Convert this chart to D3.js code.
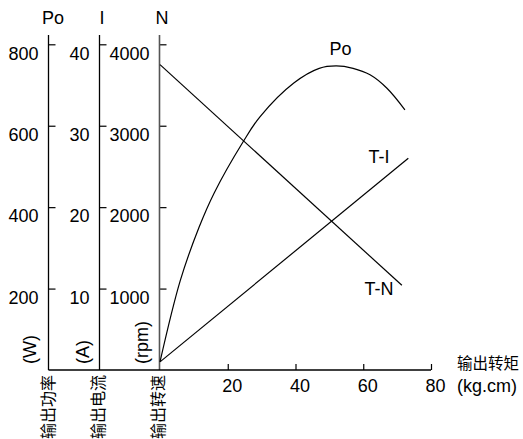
<!DOCTYPE html>
<html>
<head>
<meta charset="utf-8">
<script src="https://cdn.jsdelivr.net/npm/d3@7"></script>
<style>
  body { margin: 0; background: #fff; }
  svg text { font-family: "Liberation Sans", Arial, sans-serif; fill: #000; }
  .cjk { font-family: "Noto Sans CJK SC", sans-serif; }
</style>
</head>
<body>
<div id="chart"></div>
<script>
// torque (kg.cm) on the bottom axis
const torqueTicks = [20, 40, 60, 80];
const powerTicks = [200, 400, 600, 800];
const currentTicks = [10, 20, 30, 40];
const speedTicks = [1000, 2000, 3000, 4000];

// Po curve: output power (W) vs torque
const poTorque = [0, 6, 11.5, 16, 24.5, 29.5, 39.5, 47, 52, 57, 62, 67, 72.3];
const poWatts = [20, 220, 350, 435, 560, 622, 705, 741, 747, 741, 725, 692, 639];

// T-I line: current (A) vs torque
const tiTorque = [0, 73.3];
const tiAmps = [1, 26];

// T-N line: speed (rpm) vs torque
const tnTorque = [0, 71.4];
const tnRpm = [3750, 1040];

const width = 523, height = 439;
const baseY = 370, topY = 35;
const fs = "18px";

const svg = d3.select("#chart").append("svg")
  .attr("width", width)
  .attr("height", height);

const x = d3.scaleLinear().domain([0, 80]).range([160, 431]);
const yPo = d3.scaleLinear().domain([0, 800]).range([baseY, 44.3]);
const yI = d3.scaleLinear().domain([0, 40]).range([baseY, 44.3]);
const yN = d3.scaleLinear().domain([0, 4000]).range([baseY, 44.3]);

// three vertical axes, ticks pointing right, labels on the left
const axes = [
  { name: "Po", scale: yPo, ticks: powerTicks, pos: 48.5, unit: "(W)", unitX: 30, titleX: 53 },
  { name: "I", scale: yI, ticks: currentTicks, pos: 99.5, unit: "(A)", unitX: 82.5, titleX: 102 },
  { name: "N", scale: yN, ticks: speedTicks, pos: 159.5, unit: "(rpm)", unitX: 141.5, titleX: 162 }
];
const cnLabels = ["输出功率", "输出电流", "输出转速"];
const cnX = [47.5, 98, 158];

axes.forEach((a, i) => {
  const g = svg.append("g")
    .attr("transform", `translate(${a.pos},0)`)
    .call(d3.axisLeft(a.scale)
      .tickValues(a.ticks)
      .tickFormat(d3.format("d"))
      .tickSizeInner(-7)
      .tickSizeOuter(0)
      .tickPadding(10));
  g.select(".domain").remove();
  g.selectAll(".tick line").attr("stroke", "#000").attr("stroke-width", 1.2);
  g.selectAll(".tick text")
    .attr("dy", "0.82em")
    .style("font-size", fs)
    .style("font-family", "Liberation Sans, Arial, sans-serif");

  svg.append("line")
    .attr("x1", a.pos).attr("x2", a.pos)
    .attr("y1", topY).attr("y2", baseY)
    .attr("stroke", i === 2 ? "#555" : "#000")
    .attr("stroke-width", i === 2 ? 1.6 : 1.3);

  svg.append("text")
    .attr("x", a.titleX)
    .attr("y", 24)
    .attr("text-anchor", "middle")
    .style("font-size", fs)
    .text(a.name);

  svg.append("text")
    .attr("transform", `translate(${a.unitX},364) rotate(-90)`)
    .attr("dy", "0.35em")
    .style("font-size", fs)
    .text(a.unit);

  svg.append("text")
    .attr("class", "cjk")
    .attr("transform", `translate(${cnX[i]},375) rotate(-90)`)
    .attr("text-anchor", "end")
    .attr("dy", "0.38em")
    .style("font-size", "16px")
    .text(cnLabels[i]);
});

// bottom axis, ticks pointing up
const gx = svg.append("g")
  .attr("transform", `translate(0,${baseY})`)
  .call(d3.axisBottom(x)
    .tickValues(torqueTicks)
    .tickSizeInner(-6)
    .tickSizeOuter(0)
    .tickPadding(9));
gx.select(".domain").remove();
gx.selectAll(".tick line").attr("stroke", "#000").attr("stroke-width", 1.2);
gx.selectAll(".tick text")
  .attr("dx", 4)
  .style("font-size", fs)
  .style("font-family", "Liberation Sans, Arial, sans-serif");

svg.append("line")
  .attr("x1", 48.5).attr("x2", x(80))
  .attr("y1", baseY).attr("y2", baseY)
  .attr("stroke", "#000")
  .attr("stroke-width", 1.3);

svg.append("text")
  .attr("class", "cjk")
  .attr("x", 457).attr("y", 369)
  .style("font-size", "15.5px")
  .text("输出转矩");
svg.append("text")
  .attr("x", 457).attr("y", 392)
  .style("font-size", fs)
  .text("(kg.cm)");

// curves
const poLine = d3.line()
  .x(d => x(d[0]))
  .y(d => yPo(d[1]))
  .curve(d3.curveCatmullRom.alpha(0.5));

svg.append("path")
  .datum(poTorque.map((t, i) => [t, poWatts[i]]))
  .attr("d", poLine)
  .attr("fill", "none")
  .attr("stroke", "#000")
  .attr("stroke-width", 1.2);

svg.append("path")
  .datum(tiTorque.map((t, i) => [t, tiAmps[i]]))
  .attr("d", d3.line().x(d => x(d[0])).y(d => yI(d[1])))
  .attr("fill", "none")
  .attr("stroke", "#000")
  .attr("stroke-width", 1.2);

svg.append("path")
  .datum(tnTorque.map((t, i) => [t, tnRpm[i]]))
  .attr("d", d3.line().x(d => x(d[0])).y(d => yN(d[1])))
  .attr("fill", "none")
  .attr("stroke", "#000")
  .attr("stroke-width", 1.2);

// curve labels
const curveLabels = [
  { text: "Po", x: 340.5, y: 55 },
  { text: "T-I", x: 379, y: 163 },
  { text: "T-N", x: 379, y: 295 }
];
svg.selectAll(".curve-label")
  .data(curveLabels)
  .join("text")
  .attr("class", "curve-label")
  .attr("x", d => d.x)
  .attr("y", d => d.y)
  .attr("text-anchor", "middle")
  .style("font-size", fs)
  .text(d => d.text);
</script>
</body>
</html>
